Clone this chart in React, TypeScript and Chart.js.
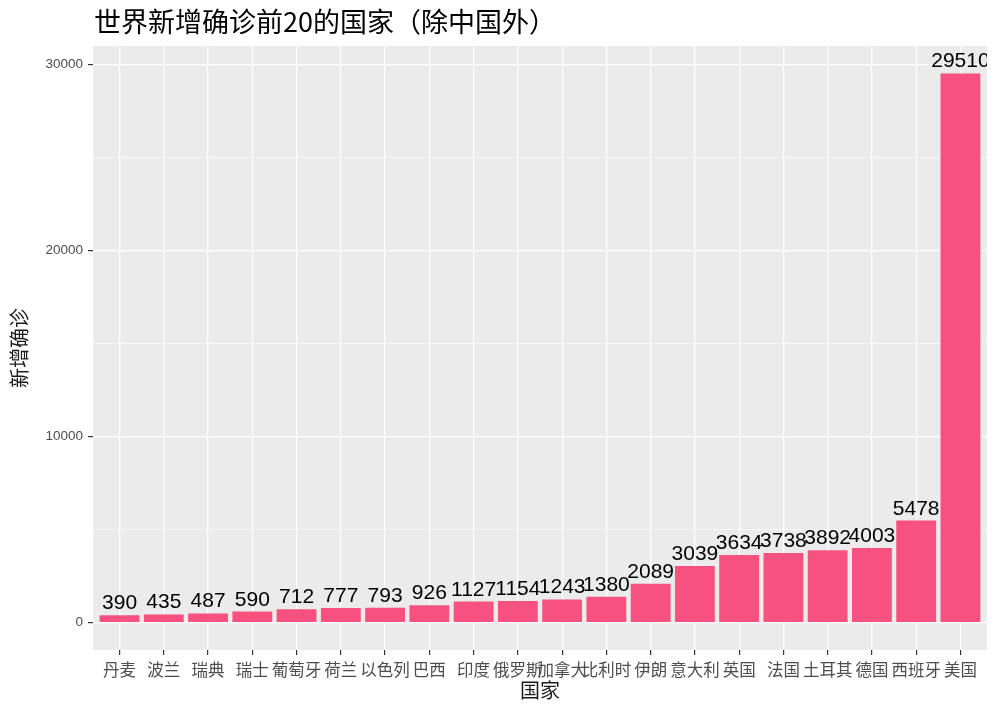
import React, { useEffect, useRef } from "react";
import { Chart, registerables } from "chart.js";

Chart.register(...registerables);

const countries = ["丹麦", "波兰", "瑞典", "瑞士", "葡萄牙", "荷兰", "以色列", "巴西", "印度", "俄罗斯", "加拿大", "比利时", "伊朗", "意大利", "英国", "法国", "土耳其", "德国", "西班牙", "美国"];
const newCases = [390, 435, 487, 590, 712, 777, 793, 926, 1127, 1154, 1243, 1380, 2089, 3039, 3634, 3738, 3892, 4003, 5478, 29510];
const yTicks = [0, 5000, 10000, 15000, 20000, 25000, 30000];
const titleText = "世界新增确诊前20的国家（除中国外）";
const xTitle = "国家";
const yTitle = "新增确诊";

const CJK = '"Noto Sans CJK SC", "Noto Sans", sans-serif';
const LAT = '"Liberation Sans", Arial, sans-serif';

export default function App() {
  const ref = useRef<HTMLCanvasElement | null>(null);

  useEffect(() => {
    document.body.style.margin = "0";
    const canvas = ref.current;
    if (!canvas) return;
    const maxV = Math.max(...newCases);
    const expand = maxV * 0.05;

    const bgPlugin = {
      id: "bg",
      beforeDraw(chart: any) {
        const { ctx, chartArea: a } = chart;
        ctx.save();
        ctx.fillStyle = "#FFFFFF";
        ctx.fillRect(0, 0, chart.width, chart.height);
        ctx.fillStyle = "#EBEBEB";
        ctx.fillRect(a.left, a.top, a.right - a.left, a.bottom - a.top);
        ctx.restore();
      },
    };

    const textPlugin = {
      id: "texts",
      afterDatasetsDraw(chart: any) {
        const { ctx, chartArea: a } = chart;
        const meta = chart.getDatasetMeta(0);
        ctx.save();
        ctx.beginPath();
        ctx.rect(a.left, a.top, a.right - a.left, a.bottom - a.top);
        ctx.clip();
        ctx.fillStyle = "#000000";
        ctx.font = `21px ${LAT}`;
        ctx.textAlign = "center";
        ctx.textBaseline = "alphabetic";
        meta.data.forEach((el: any, i: number) => {
          ctx.fillText(String(newCases[i]), el.x, el.y - 6);
        });
        ctx.restore();

        ctx.save();
        ctx.fillStyle = "#000000";
        ctx.font = `27px ${CJK}`;
        ctx.textAlign = "left";
        ctx.textBaseline = "middle";
        ctx.fillText(titleText, 94, 22);

        ctx.fillStyle = "#1A1A1A";
        ctx.font = `20px ${CJK}`;
        ctx.textAlign = "center";
        ctx.fillText(xTitle, (a.left + a.right) / 2, 690);

        ctx.translate(19, (a.top + a.bottom) / 2);
        ctx.rotate(-Math.PI / 2);
        ctx.font = `20px ${CJK}`;
        ctx.fillText(yTitle, 0, 0);
        ctx.restore();
      },
    };

    const chart = new Chart(canvas, {
      type: "bar",
      data: {
        datasets: [
          {
            data: newCases.map((v, i) => ({ x: i, y: v })),
            backgroundColor: "#F7527F",
            borderWidth: 0,
            barPercentage: 0.9,
            categoryPercentage: 1,
          },
        ],
      },
      options: {
        responsive: false,
        animation: false,
        devicePixelRatio: 1,
        layout: { padding: { top: 46, right: 13, bottom: 0, left: 0 } },
        plugins: { legend: { display: false }, tooltip: { enabled: false }, title: { display: false } },
        scales: {
          x: {
            type: "linear",
            offset: false,
            min: -0.6,
            max: countries.length - 1 + 0.6,
            afterBuildTicks: (s: any) => {
              s.ticks = countries.map((_, i) => ({ value: i }));
            },
            afterFit: (s: any) => {
              s.height = 64;
            },
            ticks: {
              autoSkip: false,
              maxRotation: 0,
              minRotation: 0,
              padding: 5,
              color: "#4D4D4D",
              font: { family: CJK, size: 16.5 },
              callback: (v: any) => countries[Math.round(Number(v))] ?? "",
            },
            grid: {
              offset: false,
              color: "#FFFFFF",
              lineWidth: 1.2,
              drawTicks: true,
              tickLength: 5,
              tickColor: "#333333",
              tickWidth: 1.2,
            },
            border: { display: false },
          },
          y: {
            type: "linear",
            min: -expand,
            max: maxV + expand,
            afterBuildTicks: (s: any) => {
              s.ticks = yTicks.map((v) => ({ value: v }));
            },
            afterFit: (s: any) => {
              s.width = 93;
            },
            ticks: {
              padding: 5,
              color: "#4D4D4D",
              font: { family: LAT, size: 13.5 },
              callback: (v: any) => (Number(v) % 10000 === 0 ? String(v) : ""),
            },
            grid: {
              color: "#FFFFFF",
              lineWidth: (c: any) => (c.tick && c.tick.value % 10000 === 0 ? 1.2 : 0.6),
              drawTicks: true,
              tickLength: 5,
              tickColor: (c: any) => (c.tick && c.tick.value % 10000 === 0 ? "#333333" : "rgba(0,0,0,0)"),
              tickWidth: 1.2,
            },
            border: { display: false },
          },
        },
      },
      plugins: [bgPlugin, textPlugin],
    });

    return () => chart.destroy();
  }, []);

  return (
    <div style={{ width: 1000, height: 714 }}>
      <canvas ref={ref} width={1000} height={714} style={{ display: "block" }} />
    </div>
  );
}
